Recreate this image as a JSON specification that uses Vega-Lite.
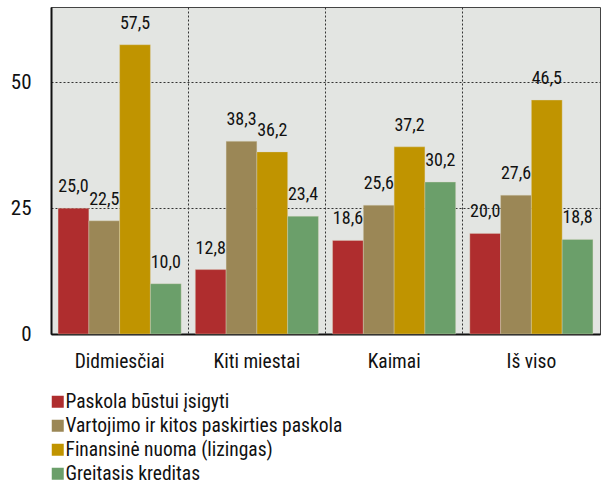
{
  "$schema": "https://vega.github.io/schema/vega-lite/v6.json",
  "width": 549,
  "height": 327,
  "autosize": {"type": "none"},
  "padding": {"left": 51, "top": 7, "right": 2, "bottom": 151},
  "background": "white",
  "config": {
    "font": "Roboto Condensed, Liberation Sans",
    "locale": {"number": {"decimal": ",", "thousands": " ", "grouping": [3], "currency": ["", " €"]}},
    "view": {"fill": "#e3e5e2", "stroke": "#444", "strokeWidth": 1}
  },
  "data": {
    "values": [
      {"region": "Didmiesčiai", "series": "Paskola būstui įsigyti", "value": 25.0},
      {"region": "Didmiesčiai", "series": "Vartojimo ir kitos paskirties paskola", "value": 22.5},
      {"region": "Didmiesčiai", "series": "Finansinė nuoma (lizingas)", "value": 57.5},
      {"region": "Didmiesčiai", "series": "Greitasis kreditas", "value": 10.0},
      {"region": "Kiti miestai", "series": "Paskola būstui įsigyti", "value": 12.8},
      {"region": "Kiti miestai", "series": "Vartojimo ir kitos paskirties paskola", "value": 38.3},
      {"region": "Kiti miestai", "series": "Finansinė nuoma (lizingas)", "value": 36.2},
      {"region": "Kiti miestai", "series": "Greitasis kreditas", "value": 23.4},
      {"region": "Kaimai", "series": "Paskola būstui įsigyti", "value": 18.6},
      {"region": "Kaimai", "series": "Vartojimo ir kitos paskirties paskola", "value": 25.6},
      {"region": "Kaimai", "series": "Finansinė nuoma (lizingas)", "value": 37.2},
      {"region": "Kaimai", "series": "Greitasis kreditas", "value": 30.2},
      {"region": "Iš viso", "series": "Paskola būstui įsigyti", "value": 20.0},
      {"region": "Iš viso", "series": "Vartojimo ir kitos paskirties paskola", "value": 27.6},
      {"region": "Iš viso", "series": "Finansinė nuoma (lizingas)", "value": 46.5},
      {"region": "Iš viso", "series": "Greitasis kreditas", "value": 18.8}
    ]
  },
  "encoding": {
    "x": {
      "field": "region", "type": "nominal",
      "sort": ["Didmiesčiai", "Kiti miestai", "Kaimai", "Iš viso"],
      "scale": {"paddingInner": 0, "paddingOuter": 0},
      "axis": {
        "title": null, "labelAngle": 0, "ticks": false,
        "domainColor": "#111", "domainWidth": 2,
        "grid": true, "bandPosition": 0, "gridColor": "#333", "gridDash": [2, 2], "gridWidth": 1,
        "labelFontSize": 19.5, "labelColor": "#111", "labelPadding": 18
      }
    },
    "xOffset": {
      "field": "series", "type": "nominal",
      "sort": ["Paskola būstui įsigyti", "Vartojimo ir kitos paskirties paskola", "Finansinė nuoma (lizingas)", "Greitasis kreditas"],
      "scale": {"paddingInner": 0, "paddingOuter": 0.23}
    },
    "y": {
      "field": "value", "type": "quantitative",
      "scale": {"domain": [0, 65], "nice": false},
      "axis": {
        "title": null, "values": [0, 25, 50], "ticks": false,
        "domainColor": "#111", "domainWidth": 2,
        "grid": true, "gridColor": "#333", "gridDash": [2, 2], "gridWidth": 1,
        "labelFontSize": 21, "labelColor": "#111", "labelPadding": 20
      }
    }
  },
  "layer": [
    {
      "mark": {"type": "bar", "stroke": "#ddd8c0", "strokeWidth": 0.6, "strokeOpacity": 0.6},
      "encoding": {
        "color": {
          "field": "series", "type": "nominal",
          "sort": ["Paskola būstui įsigyti", "Vartojimo ir kitos paskirties paskola", "Finansinė nuoma (lizingas)", "Greitasis kreditas"],
          "scale": {
            "domain": ["Paskola būstui įsigyti", "Vartojimo ir kitos paskirties paskola", "Finansinė nuoma (lizingas)", "Greitasis kreditas"],
            "range": ["#af2d2e", "#9b8756", "#c09400", "#6b9f6a"]
          },
          "legend": {
            "title": null, "orient": "none", "legendX": -3, "legendY": 385,
            "direction": "vertical", "padding": 0,
            "symbolType": "square", "symbolSize": 144, "symbolStrokeWidth": 0,
            "labelFontSize": 19.5, "labelColor": "#111", "labelOffset": -2,
            "rowPadding": 3, "labelLimit": 500
          }
        }
      }
    },
    {
      "mark": {"type": "text", "baseline": "bottom", "dy": -12, "fontSize": 18, "color": "#111"},
      "encoding": {
        "text": {"field": "value", "type": "quantitative", "format": ".1f"}
      }
    }
  ]
}
